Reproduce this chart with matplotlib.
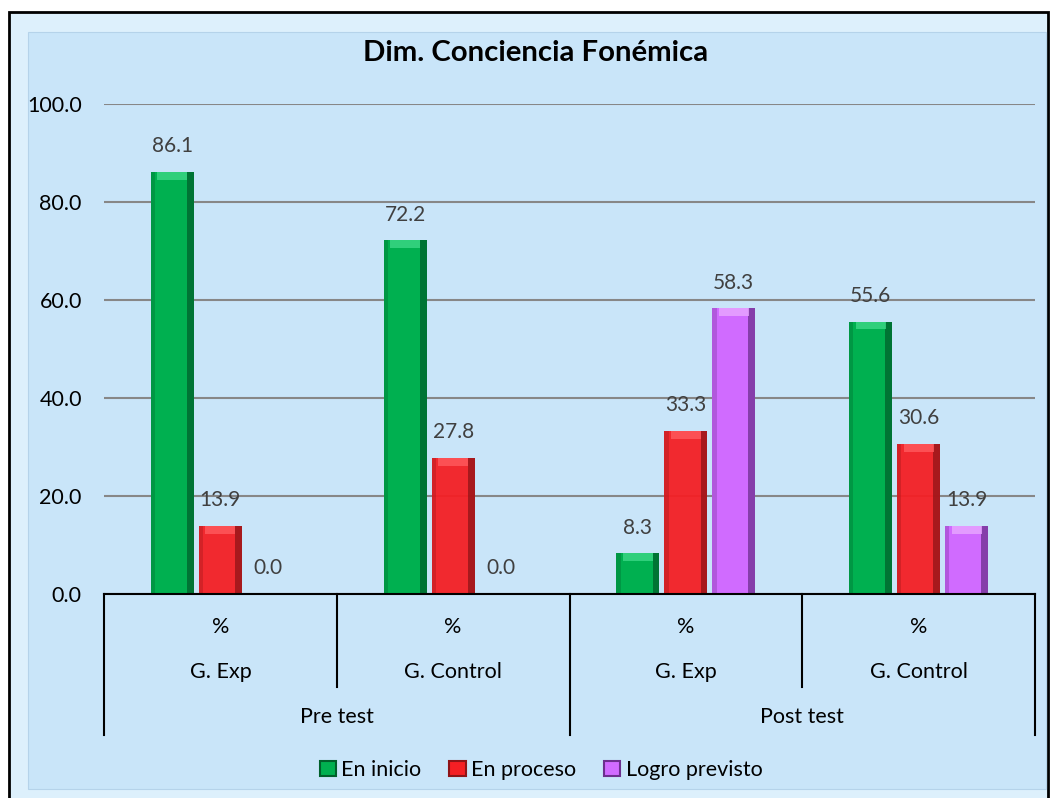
import numpy as np
import matplotlib
matplotlib.use("Agg")
import matplotlib.pyplot as plt
from matplotlib.patches import Rectangle, Patch

plt.rcParams['font.family'] = ['Lato', 'DejaVu Sans']

# data
phases = ["Pre test", "Post test"]
groups = ["G. Exp", "G. Control", "G. Exp", "G. Control"]
unit_labels = ["%", "%", "%", "%"]
series = ["En inicio", "En proceso", "Logro previsto"]
en_inicio = [86.1, 72.2, 8.3, 55.6]
en_proceso = [13.9, 27.8, 33.3, 30.6]
logro_previsto = [0.0, 0.0, 58.3, 13.9]

# main / dark side / light top colours per series
colors = ["#00B050", "#F41F24", "#D06BFF"]
dark = ["#00602B", "#8E1417", "#6C2F8E"]
light = ["#3DD887", "#FF5A5E", "#E9A8FF"]
alphas = [1.0, 0.95, 1.0]

fig = plt.figure(figsize=(10.51, 7.98), dpi=100)
W, H = 1051, 798

# chart frame with a bevel-ish border
fig.patches.append(Rectangle((9 / W, -0.02), 1039 / W, 1.02 - 12 / H, transform=fig.transFigure,
                             facecolor="#DDF0FC", edgecolor="black", lw=2, zorder=-5))
fig.patches.append(Rectangle((28 / W, 9 / H), 1018 / W, (789 - 32) / H, transform=fig.transFigure,
                             facecolor="#C9E5F9", edgecolor="#B5D3EA", lw=0.8, zorder=-4))

ax = fig.add_axes([104 / W, 1 - 594 / H, (1035 - 104) / W, (594 - 104) / H])
ax.set_facecolor("none")
ax.set_zorder(2)

x = np.arange(len(groups))
width = 0.185
step = 0.206
values = [en_inicio, en_proceso, logro_previsto]

for i, vals in enumerate(values):
    xs = x + (i - 1) * step
    vals = np.array(vals)
    ax.bar(xs, vals, width, color=colors[i], alpha=alphas[i], zorder=3)
    # bevel: darker right side, slightly darker left side, lighter top cap
    ax.bar(xs + width * 0.42, vals, width * 0.16, color=dark[i], alpha=0.75, zorder=4)
    ax.bar(xs - width * 0.45, vals, width * 0.1, color=dark[i], alpha=0.3, zorder=4)
    cap = np.minimum(vals, 1.6)
    ax.bar(xs, cap, width * 0.7, bottom=vals - cap, color=light[i], alpha=0.8, zorder=4)
    for xi, v in zip(xs, vals):
        ax.text(xi, v + 3.2, f"{v:.1f}", ha="center", va="bottom", fontsize=15,
                color="#404040", zorder=5)

ax.set_xlim(-0.5, len(groups) - 0.5)
ax.set_ylim(0, 100)
ax.set_yticks(np.arange(0, 101, 20))
ax.set_yticklabels([f"{t:.1f}" for t in np.arange(0, 101, 20)])
ax.tick_params(axis="y", length=0, pad=16, labelsize=15.5, labelcolor="black")
ax.set_xticks([])
ax.yaxis.grid(True, color="#878787", lw=1.5, zorder=1)
ax.set_axisbelow(True)
for s in ["left", "right", "top"]:
    ax.spines[s].set_visible(False)
ax.spines["bottom"].set_color("black")
ax.spines["bottom"].set_linewidth(1.5)
ax.spines["bottom"].set_zorder(6)

# multi-level category axis
for xb in [-0.5, 1.5, 3.5]:
    ax.plot([xb, xb], [0, -28.8], color="black", lw=1.5, clip_on=False)
for xb in [0.5, 2.5]:
    ax.plot([xb, xb], [0, -19.0], color="black", lw=1.5, clip_on=False)
for xi, u, g in zip(x, unit_labels, groups):
    ax.text(xi, -6.7, u, ha="center", va="center", fontsize=15.5, clip_on=False)
    ax.text(xi, -15.9, g, ha="center", va="center", fontsize=15.5, clip_on=False)
for k, p in enumerate(phases):
    ax.text(0.5 + 2 * k, -25.1, p, ha="center", va="center", fontsize=15.5, clip_on=False)

fig.text(536 / W, 1 - 53 / H, "Dim. Conciencia Fonémica", ha="center", va="center",
         fontsize=21.2, fontweight="bold")

handles = [Patch(facecolor=colors[i], edgecolor=dark[i], lw=1.5) for i in range(3)]
fig.legend(handles, series, loc="center", bbox_to_anchor=(541 / W, 1 - 770 / H), ncol=3,
           frameon=False, fontsize=15.5, handlelength=0.75, handleheight=0.75,
           handletextpad=0.25, columnspacing=1.3)

fig.savefig("out.png", dpi=100, facecolor="white")
